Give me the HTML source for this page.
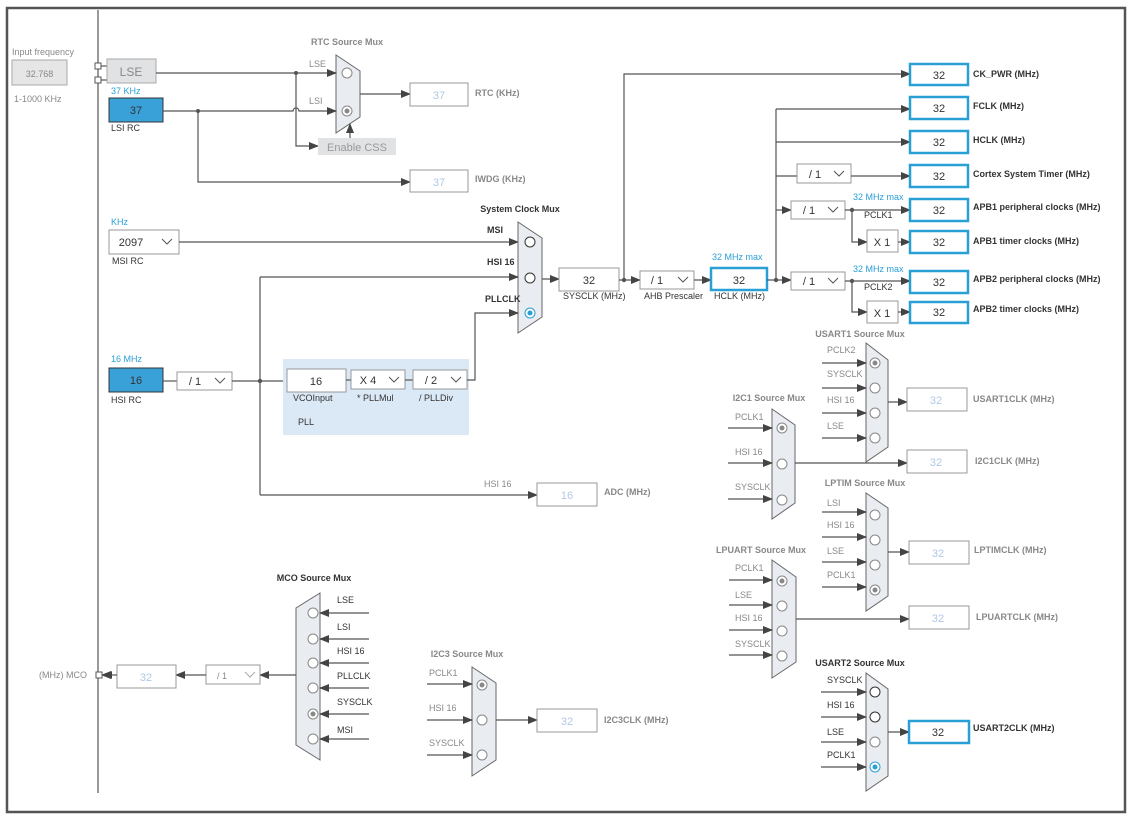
<!DOCTYPE html>
<html><head><meta charset="utf-8"><style>
html,body{margin:0;padding:0;background:#fff}
svg{display:block;font-family:"Liberation Sans",sans-serif}
.l{stroke:#555;stroke-width:1.2;fill:none}
.la{stroke:#555;stroke-width:1.2;fill:none;marker-end:url(#ar)}
.g{fill:#888;font-size:9px}
.d{fill:#333;font-size:9px}
.b{fill:#333;font-size:9px;font-weight:bold}
.gb{fill:#888;font-size:9px;font-weight:bold}
.bl{fill:#2a9fd6;font-size:9px}
.mux{fill:#e9edf1;stroke:#666;stroke-width:1}
.ci{fill:#fff;stroke:#888;stroke-width:1}
.bx{fill:#fff;stroke:#999;stroke-width:1}
.bb{fill:#fff;stroke:#2a9fd6;stroke-width:2.5}
.dis{fill:#b0c8e4;font-size:11px}
.v{fill:#333;font-size:11px}
</style></head><body>
<svg width="1131" height="820" viewBox="0 0 1131 820">
<defs>
<marker id="ar" markerWidth="10" markerHeight="8" refX="9" refY="4" orient="auto" markerUnits="userSpaceOnUse"><path d="M0,0 L10,4 L0,8 z" fill="#444"/></marker>
</defs>
<rect x="7" y="8" width="1118" height="804" fill="none" stroke="#555" stroke-width="2.5"/>
<line x1="98" y1="10" x2="98" y2="793" class="l"/>

<!-- left inputs -->
<text x="12" y="55" class="g">Input frequency</text>
<rect x="12" y="60" width="55" height="25" fill="#e6e6e6" stroke="#aaa"/>
<text x="39.5" y="77" class="g" font-size="11" text-anchor="middle">32.768</text>
<text x="14" y="102" class="g">1-1000 KHz</text>
<rect x="95" y="63" width="6" height="6" fill="#fff" stroke="#555"/>
<rect x="95" y="77" width="6" height="6" fill="#fff" stroke="#555"/>
<line x1="101" y1="66" x2="107" y2="66" class="l"/><line x1="101" y1="80" x2="107" y2="80" class="l"/>
<rect x="107" y="59" width="49" height="24" fill="#e0e2e4" stroke="#aaa"/>
<text x="131" y="76" fill="#888" font-size="12" text-anchor="middle">LSE</text>
<text x="111" y="94" class="bl">37 KHz</text>
<rect x="109" y="98" width="54" height="24" fill="#3aa0d8" stroke="#333"/>
<text x="136" y="114" class="v" text-anchor="middle">37</text>
<text x="111" y="131" class="d">LSI RC</text>

<!-- RTC mux -->
<text x="347" y="45" class="gb" text-anchor="middle">RTC Source Mux</text>
<path d="M336,55 L360,71 L360,117 L336,133 Z" class="mux"/>
<circle cx="347" cy="73" r="5" class="ci"/>
<circle cx="347" cy="111" r="5" class="ci"/><circle cx="347" cy="111" r="2.5" fill="#888"/>
<text x="309" y="67" class="g">LSE</text><text x="309" y="104" class="g">LSI</text>
<line x1="156" y1="73" x2="336" y2="73" class="la"/>
<path d="M163,111 L293,111 A3,3 0 0 1 299,111 L336,111" class="la"/>
<circle cx="296" cy="73" r="2" fill="#555"/><circle cx="198" cy="111" r="2" fill="#555"/>
<path d="M296,73 L296,146 L318,146" class="la"/>
<rect x="318" y="138" width="78" height="17" fill="#e0e2e4"/>
<text x="357" y="151" fill="#999" font-size="11" text-anchor="middle">Enable CSS</text>
<line x1="350" y1="138" x2="350" y2="124" class="la"/>
<line x1="360" y1="94" x2="410" y2="94" class="la"/>
<rect x="410" y="83" width="58" height="23" class="bx"/><text x="439" y="99" class="dis" text-anchor="middle">37</text>
<text x="475" y="96" class="gb">RTC (KHz)</text>
<path d="M198,111 L198,182 L410,182" class="la"/>
<rect x="410" y="170" width="58" height="22" class="bx"/><text x="439" y="186" class="dis" text-anchor="middle">37</text>
<text x="475" y="182" class="gb">IWDG (KHz)</text>

<!-- MSI -->
<text x="111" y="225" class="bl">KHz</text>
<rect x="109" y="230" width="70" height="24" class="bx"/>
<text x="131" y="246" class="v" text-anchor="middle">2097</text>
<path d="M162,239 L167,244 L172,239" stroke="#555" fill="none"/>
<text x="112" y="264" class="d">MSI RC</text>
<line x1="179" y1="242" x2="518" y2="242" class="la"/>

<!-- sys mux -->
<text x="520" y="212" class="b" text-anchor="middle">System Clock Mux</text>
<path d="M518,222 L542,238 L542,317 L518,333 Z" class="mux"/>
<circle cx="530" cy="242" r="5" fill="#fff" stroke="#333"/>
<circle cx="530" cy="278" r="5" fill="#fff" stroke="#333"/>
<circle cx="530" cy="313" r="5" fill="#fff" stroke="#2a9fd6"/><circle cx="530" cy="313" r="2.5" fill="#2a9fd6"/>
<text x="487" y="233" class="b">MSI</text><text x="487" y="265" class="b">HSI 16</text><text x="485" y="302" class="b">PLLCLK</text>
<line x1="260" y1="277" x2="518" y2="277" class="la"/>
<line x1="260" y1="277" x2="260" y2="495" class="l"/>
<line x1="260" y1="495" x2="537" y2="495" class="la"/>
<text x="484" y="487" class="g">HSI 16</text>
<rect x="537" y="483" width="60" height="23" class="bx"/><text x="567" y="499" class="dis" text-anchor="middle">16</text>
<text x="604" y="495" class="gb">ADC (MHz)</text>

<!-- HSI -->
<text x="111" y="362" class="bl">16 MHz</text>
<rect x="109" y="368" width="54" height="24" fill="#3aa0d8" stroke="#333"/>
<text x="136" y="384" class="v" text-anchor="middle">16</text>
<text x="111" y="403" class="d">HSI RC</text>
<line x1="163" y1="381" x2="177" y2="381" class="l"/>
<rect x="177" y="372" width="55" height="18" class="bx"/><text x="195" y="385" class="v" text-anchor="middle">/ 1</text>
<path d="M215,378 L220,383 L225,378" stroke="#555" fill="none"/>
<line x1="232" y1="381" x2="287" y2="381" class="l"/>
<circle cx="260" cy="381" r="2.2" fill="#555"/>
<rect x="283" y="359" width="186" height="76" fill="#dbe8f5"/>
<rect x="287" y="369" width="59" height="23" class="bx"/><text x="316" y="385" class="v" text-anchor="middle">16</text>
<line x1="346" y1="380" x2="351" y2="380" class="l"/>
<rect x="351" y="370" width="54" height="19" class="bx"/><text x="368" y="384" class="v" text-anchor="middle">X 4</text>
<path d="M389,377 L394,382 L399,377" stroke="#555" fill="none"/>
<line x1="405" y1="380" x2="413" y2="380" class="l"/>
<rect x="413" y="370" width="54" height="19" class="bx"/><text x="431" y="384" class="v" text-anchor="middle">/ 2</text>
<path d="M451,377 L456,382 L461,377" stroke="#555" fill="none"/>
<text x="293" y="401" class="d">VCOInput</text><text x="357" y="401" class="d">* PLLMul</text><text x="419" y="401" class="d">/ PLLDiv</text>
<text x="298" y="425" class="d">PLL</text>
<path d="M467,380 L475,380 L475,313 L518,313" class="la"/>

<!-- SYSCLK / AHB -->
<line x1="542" y1="279" x2="559" y2="279" class="la"/>
<rect x="559" y="268" width="60" height="23" class="bx"/><text x="589" y="284" class="v" text-anchor="middle">32</text>
<text x="563" y="299" class="d">SYSCLK (MHz)</text>
<line x1="619" y1="280" x2="640" y2="280" class="la"/>
<circle cx="624" cy="280" r="2.2" fill="#555"/>
<path d="M624,280 L624,74 L910,74" class="la"/>
<rect x="640" y="271" width="54" height="18" class="bx"/><text x="657" y="284" class="v" text-anchor="middle">/ 1</text>
<path d="M678,277 L683,282 L688,277" stroke="#555" fill="none"/>
<text x="644" y="299" class="d">AHB Prescaler</text>
<line x1="694" y1="280" x2="711" y2="280" class="la"/>
<text x="712" y="260" class="bl">32 MHz max</text>
<rect x="711" y="268" width="56" height="22" class="bb"/><text x="739" y="284" class="v" text-anchor="middle">32</text>
<text x="714" y="299" class="d">HCLK (MHz)</text>
<line x1="767" y1="280" x2="791" y2="280" class="la"/>
<circle cx="776" cy="280" r="2.2" fill="#555"/>
<line x1="776" y1="109" x2="776" y2="280" class="l"/>
<line x1="776" y1="109" x2="910" y2="109" class="la"/>
<line x1="776" y1="142" x2="910" y2="142" class="la"/>
<line x1="776" y1="176" x2="797" y2="176" class="l"/>
<rect x="797" y="164" width="54" height="19" class="bx"/><text x="815" y="178" class="v" text-anchor="middle">/ 1</text>
<path d="M834,171 L839,176 L844,171" stroke="#555" fill="none"/>
<line x1="851" y1="176" x2="910" y2="176" class="la"/>
<line x1="776" y1="210" x2="791" y2="210" class="la"/>
<rect x="791" y="201" width="54" height="18" class="bx"/><text x="809" y="214" class="v" text-anchor="middle">/ 1</text>
<path d="M828,207 L833,212 L838,207" stroke="#555" fill="none"/>
<line x1="845" y1="210" x2="910" y2="210" class="la"/>
<circle cx="852" cy="210" r="2.2" fill="#555"/>
<path d="M852,210 L852,242 L867,242" class="la"/>
<rect x="867" y="230" width="31" height="22" class="bx"/><text x="882" y="246" class="v" text-anchor="middle">X 1</text>
<line x1="898" y1="242" x2="910" y2="242" class="la"/>
<text x="853" y="200" class="bl">32 MHz max</text><text x="864" y="218" class="d">PCLK1</text>
<rect x="791" y="272" width="54" height="18" class="bx"/><text x="809" y="285" class="v" text-anchor="middle">/ 1</text>
<path d="M828,278 L833,283 L838,278" stroke="#555" fill="none"/>
<line x1="845" y1="281" x2="910" y2="281" class="la"/>
<circle cx="852" cy="281" r="2.2" fill="#555"/>
<path d="M852,281 L852,312 L867,312" class="la"/>
<rect x="867" y="301" width="31" height="22" class="bx"/><text x="882" y="317" class="v" text-anchor="middle">X 1</text>
<line x1="898" y1="312" x2="910" y2="312" class="la"/>
<text x="853" y="272" class="bl">32 MHz max</text><text x="864" y="290" class="d">PCLK2</text>

<g>
<rect x="910" y="64" width="58" height="21" class="bb"/><text x="939" y="79" class="v" text-anchor="middle">32</text>
<rect x="910" y="97" width="58" height="22" class="bb"/><text x="939" y="112" class="v" text-anchor="middle">32</text>
<rect x="910" y="131" width="58" height="22" class="bb"/><text x="939" y="146" class="v" text-anchor="middle">32</text>
<rect x="910" y="165" width="58" height="22" class="bb"/><text x="939" y="180" class="v" text-anchor="middle">32</text>
<rect x="910" y="199" width="58" height="22" class="bb"/><text x="939" y="214" class="v" text-anchor="middle">32</text>
<rect x="910" y="231" width="58" height="22" class="bb"/><text x="939" y="246" class="v" text-anchor="middle">32</text>
<rect x="910" y="271" width="58" height="22" class="bb"/><text x="939" y="286" class="v" text-anchor="middle">32</text>
<rect x="910" y="302" width="58" height="21" class="bb"/><text x="939" y="316" class="v" text-anchor="middle">32</text>
</g>
<text x="973" y="77" class="b">CK_PWR (MHz)</text>
<text x="973" y="109" class="b">FCLK (MHz)</text>
<text x="973" y="143" class="b">HCLK (MHz)</text>
<text x="973" y="177" class="b">Cortex System Timer (MHz)</text>
<text x="973" y="210" class="b">APB1 peripheral clocks (MHz)</text>
<text x="973" y="244" class="b">APB1 timer clocks (MHz)</text>
<text x="973" y="282" class="b">APB2 peripheral clocks (MHz)</text>
<text x="973" y="312" class="b">APB2 timer clocks (MHz)</text>

<!-- USART1 -->
<text x="860" y="337" class="gb" text-anchor="middle">USART1 Source Mux</text>
<path d="M866,343 L888,360 L888,447 L866,462 Z" class="mux"/>
<circle cx="875" cy="363" r="5" class="ci"/><circle cx="875" cy="363" r="2.5" fill="#888"/>
<circle cx="875" cy="388" r="5" class="ci"/><circle cx="875" cy="413" r="5" class="ci"/><circle cx="875" cy="438" r="5" class="ci"/>
<line x1="822" y1="363" x2="866" y2="363" class="la"/><line x1="822" y1="388" x2="866" y2="388" class="la"/>
<line x1="822" y1="413" x2="866" y2="413" class="la"/><line x1="822" y1="438" x2="866" y2="438" class="la"/>
<text x="827" y="353" class="g">PCLK2</text><text x="827" y="377" class="g">SYSCLK</text><text x="827" y="403" class="g">HSI 16</text><text x="827" y="429" class="g">LSE</text>
<line x1="888" y1="402" x2="907" y2="402" class="la"/>
<rect x="907" y="388" width="60" height="23" class="bx"/><text x="936" y="404" class="dis" text-anchor="middle">32</text>
<text x="973" y="402" class="gb">USART1CLK (MHz)</text>

<!-- I2C1 -->
<text x="769" y="401" class="gb" text-anchor="middle">I2C1 Source Mux</text>
<path d="M772,409 L795,425 L795,503 L772,519 Z" class="mux"/>
<circle cx="782" cy="428" r="5" class="ci"/><circle cx="782" cy="428" r="2.5" fill="#888"/>
<circle cx="782" cy="464" r="5" class="ci"/><circle cx="782" cy="500" r="5" class="ci"/>
<line x1="728" y1="428" x2="772" y2="428" class="la"/><line x1="728" y1="463" x2="772" y2="463" class="la"/><line x1="728" y1="499" x2="772" y2="499" class="la"/>
<text x="735" y="420" class="g">PCLK1</text><text x="735" y="455" class="g">HSI 16</text><text x="735" y="490" class="g">SYSCLK</text>
<line x1="795" y1="463" x2="907" y2="463" class="la"/>
<rect x="907" y="450" width="60" height="23" class="bx"/><text x="936" y="466" class="dis" text-anchor="middle">32</text>
<text x="975" y="464" class="gb">I2C1CLK (MHz)</text>

<!-- LPTIM -->
<text x="865" y="486" class="gb" text-anchor="middle">LPTIM Source Mux</text>
<path d="M866,493 L888,508 L888,596 L866,611 Z" class="mux"/>
<circle cx="875" cy="515" r="5" class="ci"/><circle cx="875" cy="540" r="5" class="ci"/><circle cx="875" cy="565" r="5" class="ci"/>
<circle cx="875" cy="590" r="5" class="ci"/><circle cx="875" cy="590" r="2.5" fill="#888"/>
<line x1="822" y1="512" x2="866" y2="512" class="la"/><line x1="822" y1="537" x2="866" y2="537" class="la"/>
<line x1="822" y1="562" x2="866" y2="562" class="la"/><line x1="822" y1="587" x2="866" y2="587" class="la"/>
<text x="827" y="506" class="g">LSI</text><text x="827" y="528" class="g">HSI 16</text><text x="827" y="554" class="g">LSE</text><text x="827" y="578" class="g">PCLK1</text>
<line x1="888" y1="552" x2="909" y2="552" class="la"/>
<rect x="909" y="541" width="60" height="23" class="bx"/><text x="938" y="557" class="dis" text-anchor="middle">32</text>
<text x="974" y="553" class="gb">LPTIMCLK (MHz)</text>

<!-- LPUART -->
<text x="761" y="553" class="gb" text-anchor="middle">LPUART Source Mux</text>
<path d="M772,560 L796,577 L796,662 L772,678 Z" class="mux"/>
<circle cx="782" cy="581" r="5" class="ci"/><circle cx="782" cy="581" r="2.5" fill="#888"/>
<circle cx="782" cy="606" r="5" class="ci"/><circle cx="782" cy="631" r="5" class="ci"/><circle cx="782" cy="656" r="5" class="ci"/>
<line x1="729" y1="580" x2="772" y2="580" class="la"/><line x1="729" y1="605" x2="772" y2="605" class="la"/>
<line x1="729" y1="630" x2="772" y2="630" class="la"/><line x1="729" y1="655" x2="772" y2="655" class="la"/>
<text x="735" y="571" class="g">PCLK1</text><text x="735" y="598" class="g">LSE</text><text x="735" y="621" class="g">HSI 16</text><text x="735" y="647" class="g">SYSCLK</text>
<line x1="796" y1="619" x2="909" y2="619" class="la"/>
<rect x="909" y="606" width="60" height="23" class="bx"/><text x="938" y="622" class="dis" text-anchor="middle">32</text>
<text x="976" y="620" class="gb">LPUARTCLK (MHz)</text>

<!-- USART2 -->
<text x="860" y="666" class="b" text-anchor="middle">USART2 Source Mux</text>
<path d="M866,673 L888,689 L888,776 L866,791 Z" class="mux"/>
<circle cx="875" cy="692" r="5" fill="#fff" stroke="#333"/><circle cx="875" cy="717" r="5" fill="#fff" stroke="#333"/>
<circle cx="875" cy="742" r="5" class="ci"/>
<circle cx="875" cy="767" r="5" fill="#fff" stroke="#2a9fd6"/><circle cx="875" cy="767" r="2.5" fill="#2a9fd6"/>
<line x1="821" y1="692" x2="866" y2="692" class="la"/><line x1="821" y1="717" x2="866" y2="717" class="la"/>
<line x1="821" y1="742" x2="866" y2="742" class="la"/><line x1="821" y1="767" x2="866" y2="767" class="la"/>
<text x="827" y="683" class="d">SYSCLK</text><text x="827" y="708" class="d">HSI 16</text><text x="827" y="735" class="d">LSE</text><text x="827" y="758" class="d">PCLK1</text>
<line x1="888" y1="732" x2="909" y2="732" class="la"/>
<rect x="909" y="721" width="60" height="22" class="bb"/><text x="938" y="736" class="v" text-anchor="middle">32</text>
<text x="973" y="731" class="b">USART2CLK (MHz)</text>

<!-- MCO -->
<text x="314" y="581" class="b" text-anchor="middle">MCO Source Mux</text>
<path d="M320,593 L320,760 L296,745 L296,608 Z" class="mux"/>
<circle cx="313" cy="613" r="5" class="ci"/><circle cx="313" cy="639" r="5" class="ci"/><circle cx="313" cy="663" r="5" class="ci"/>
<circle cx="313" cy="688" r="5" class="ci"/><circle cx="313" cy="714" r="5" class="ci"/><circle cx="313" cy="714" r="2.5" fill="#888"/>
<circle cx="313" cy="739" r="5" class="ci"/>
<line x1="369" y1="613" x2="320" y2="613" class="la"/><line x1="369" y1="639" x2="320" y2="639" class="la"/>
<line x1="369" y1="663" x2="320" y2="663" class="la"/><line x1="369" y1="688" x2="320" y2="688" class="la"/>
<line x1="369" y1="714" x2="320" y2="714" class="la"/><line x1="369" y1="739" x2="320" y2="739" class="la"/>
<text x="337" y="603" class="d">LSE</text><text x="337" y="630" class="d">LSI</text><text x="337" y="654" class="d">HSI 16</text>
<text x="337" y="679" class="d">PLLCLK</text><text x="337" y="705" class="d">SYSCLK</text><text x="337" y="733" class="d">MSI</text>
<line x1="296" y1="675" x2="260" y2="675" class="la"/>
<rect x="206" y="665" width="54" height="19" class="bx"/><text x="222" y="679" class="g" font-size="11" text-anchor="middle">/ 1</text>
<path d="M245,672 L250,677 L255,672" stroke="#aaa" fill="none"/>
<line x1="206" y1="675" x2="176" y2="675" class="la"/>
<rect x="117" y="665" width="59" height="23" class="bx"/><text x="146" y="681" class="dis" text-anchor="middle">32</text>
<line x1="117" y1="675" x2="102" y2="675" class="la"/>
<path d="M112,671 L106,675 L112,679 z" fill="#444"/>
<rect x="96" y="672" width="6" height="6" fill="#fff" stroke="#555"/>
<text x="39" y="678" class="g">(MHz) MCO</text>

<!-- I2C3 -->
<text x="467" y="657" class="gb" text-anchor="middle">I2C3 Source Mux</text>
<path d="M472,667 L496,683 L496,760 L472,776 Z" class="mux"/>
<circle cx="482" cy="685" r="5" class="ci"/><circle cx="482" cy="685" r="2.5" fill="#888"/>
<circle cx="482" cy="720" r="5" class="ci"/><circle cx="482" cy="755" r="5" class="ci"/>
<line x1="427" y1="684" x2="472" y2="684" class="la"/><line x1="427" y1="720" x2="472" y2="720" class="la"/><line x1="427" y1="755" x2="472" y2="755" class="la"/>
<text x="429" y="676" class="g">PCLK1</text><text x="429" y="711" class="g">HSI 16</text><text x="429" y="746" class="g">SYSCLK</text>
<line x1="496" y1="720" x2="537" y2="720" class="la"/>
<rect x="537" y="709" width="60" height="23" class="bx"/><text x="567" y="725" class="dis" text-anchor="middle">32</text>
<text x="604" y="723" class="gb">I2C3CLK (MHz)</text>
</svg>
</body></html>
